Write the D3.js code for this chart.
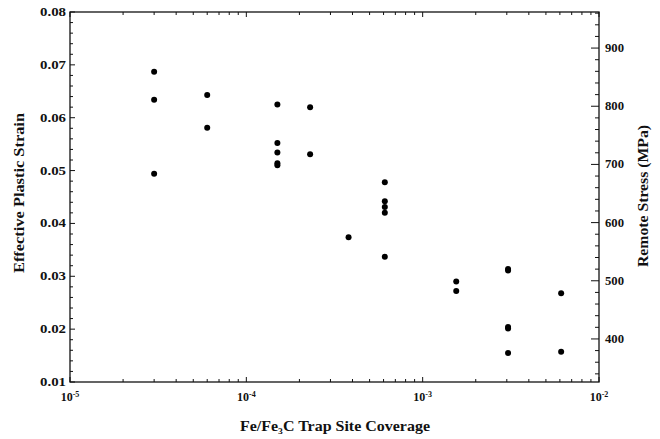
<!DOCTYPE html>
<html>
<head>
<meta charset="utf-8">
<script src="https://cdn.jsdelivr.net/npm/d3@7"></script>
<style>
  body { margin: 0; background: #fff; }
  svg { display: block; }
  text { font-family: "Liberation Serif", "Times New Roman", serif; font-weight: bold; fill: #111; }
</style>
</head>
<body>
<svg id="chart"></svg>
<script>
const svg_width = 660;
const svg_height = 439;

// trap site coverage and effective plastic strain, one entry per dot
const coverage = [3e-5, 3e-5, 3e-5,
                  6e-5, 6e-5,
                  1.5e-4, 1.5e-4, 1.5e-4, 1.5e-4, 1.5e-4,
                  2.3e-4, 2.3e-4,
                  3.8e-4,
                  6.1e-4, 6.1e-4, 6.1e-4, 6.1e-4, 6.1e-4,
                  1.55e-3, 1.55e-3,
                  3.05e-3, 3.05e-3, 3.05e-3, 3.05e-3, 3.05e-3,
                  6.1e-3, 6.1e-3];
const strain = [0.0687, 0.0634, 0.0494,
                0.0643, 0.0581,
                0.0625, 0.0552, 0.0534, 0.0514, 0.0510,
                0.0620, 0.0531,
                0.0374,
                0.0478, 0.0442, 0.0431, 0.0420, 0.0337,
                0.0290, 0.0272,
                0.0314, 0.0311, 0.0204, 0.0201, 0.0155,
                0.0268, 0.0157];

const xTicks = [1e-5, 1e-4, 1e-3, 1e-2];
const xTickExp = ['-5', '-4', '-3', '-2'];
const yTicks = [0.01, 0.02, 0.03, 0.04, 0.05, 0.06, 0.07, 0.08];
const stressTicks = [400, 500, 600, 700, 800, 900];

const margin = {top: 12, right: 61, bottom: 57, left: 70};
const innerWidth = svg_width - margin.left - margin.right;
const innerHeight = svg_height - margin.top - margin.bottom;

const svg = d3.select('#chart')
  .attr('width', svg_width)
  .attr('height', svg_height)
  .attr('viewBox', `0 0 ${svg_width} ${svg_height}`);

const g = svg.append('g').attr('transform', `translate(${margin.left}, ${margin.top})`);

const x = d3.scaleLog().domain([1e-5, 1e-2]).range([0, innerWidth]);
const y = d3.scaleLinear().domain([0.01, 0.08]).range([innerHeight, 0]);
// right axis in MPa, same vertical extent
const y2 = d3.scaleLinear().domain([326, 962]).range([innerHeight, 0]);

// minor tick values
const xMinor = [];
for (let e = -5; e < -2; e++) {
  for (let m = 2; m <= 9; m++) xMinor.push(m * Math.pow(10, e));
}
const yMinor = d3.range(0.01, 0.0801, 0.002).filter(v => Math.abs(v * 100 - Math.round(v * 100)) > 1e-6);
const y2Minor = d3.range(340, 961, 20).filter(v => v % 100 !== 0);

// frame
g.append('rect')
  .attr('width', innerWidth)
  .attr('height', innerHeight)
  .attr('fill', 'none')
  .attr('stroke', '#111')
  .attr('stroke-width', 1.3);

const ticks = g.append('g').attr('stroke', '#111').attr('stroke-width', 1);

// bottom and top ticks (inward)
xTicks.concat(xMinor).forEach(v => {
  const len = xTicks.includes(v) ? 5 : 3;
  ticks.append('line').attr('x1', x(v)).attr('x2', x(v)).attr('y1', innerHeight).attr('y2', innerHeight - len);
  ticks.append('line').attr('x1', x(v)).attr('x2', x(v)).attr('y1', 0).attr('y2', len);
});

// left ticks
yTicks.concat(yMinor).forEach(v => {
  const len = yTicks.includes(v) ? 5 : 3;
  ticks.append('line').attr('x1', 0).attr('x2', len).attr('y1', y(v)).attr('y2', y(v));
});

// right ticks
stressTicks.concat(y2Minor).forEach(v => {
  const len = stressTicks.includes(v) ? 8 : 4;
  ticks.append('line').attr('x1', innerWidth).attr('x2', innerWidth - len).attr('y1', y2(v)).attr('y2', y2(v));
});

// tick labels (the scanned font is wider than Liberation, so stretch a bit)
g.selectAll('.ylab').data(yTicks).enter().append('text')
  .attr('class', 'ylab')
  .attr('x', -4)
  .attr('y', d => y(d) + 4)
  .attr('text-anchor', 'end')
  .attr('font-size', '11.5px')
  .attr('textLength', 26)
  .attr('lengthAdjust', 'spacingAndGlyphs')
  .text(d => d.toFixed(2));

g.selectAll('.y2lab').data(stressTicks).enter().append('text')
  .attr('class', 'y2lab')
  .attr('x', innerWidth + 6)
  .attr('y', d => y2(d) + 4)
  .attr('font-size', '11.5px')
  .attr('textLength', 19)
  .attr('lengthAdjust', 'spacingAndGlyphs')
  .text(d => d);

xTicks.forEach((v, i) => {
  const t = g.append('text')
    .attr('x', x(v))
    .attr('y', innerHeight + 19)
    .attr('text-anchor', 'middle')
    .attr('font-size', '12px');
  t.append('tspan').text('10');
  t.append('tspan').attr('font-size', '8px').attr('dy', -4).text(xTickExp[i]);
});

// points
g.selectAll('circle').data(coverage).enter().append('circle')
  .attr('cx', d => x(d))
  .attr('cy', (d, i) => y(strain[i]))
  .attr('r', 3)
  .attr('fill', '#000');

// axis titles
const xt = svg.append('text')
  .attr('x', 335)
  .attr('y', 431)
  .attr('text-anchor', 'middle')
  .attr('font-size', '15px')
  .attr('textLength', 190)
  .attr('lengthAdjust', 'spacingAndGlyphs');
xt.append('tspan').text('Fe/Fe');
xt.append('tspan').attr('font-size', '9px').attr('dy', 3).text('3');
xt.append('tspan').attr('dy', -3).text('C Trap Site Coverage');

svg.append('text')
  .attr('transform', 'translate(24, 193) rotate(-90)')
  .attr('text-anchor', 'middle')
  .attr('font-size', '15px')
  .attr('textLength', 160)
  .attr('lengthAdjust', 'spacingAndGlyphs')
  .text('Effective Plastic Strain');

svg.append('text')
  .attr('transform', 'translate(648, 196) rotate(-90)')
  .attr('text-anchor', 'middle')
  .attr('font-size', '15px')
  .attr('textLength', 142)
  .attr('lengthAdjust', 'spacingAndGlyphs')
  .text('Remote Stress (MPa)');
</script>
</body>
</html>
